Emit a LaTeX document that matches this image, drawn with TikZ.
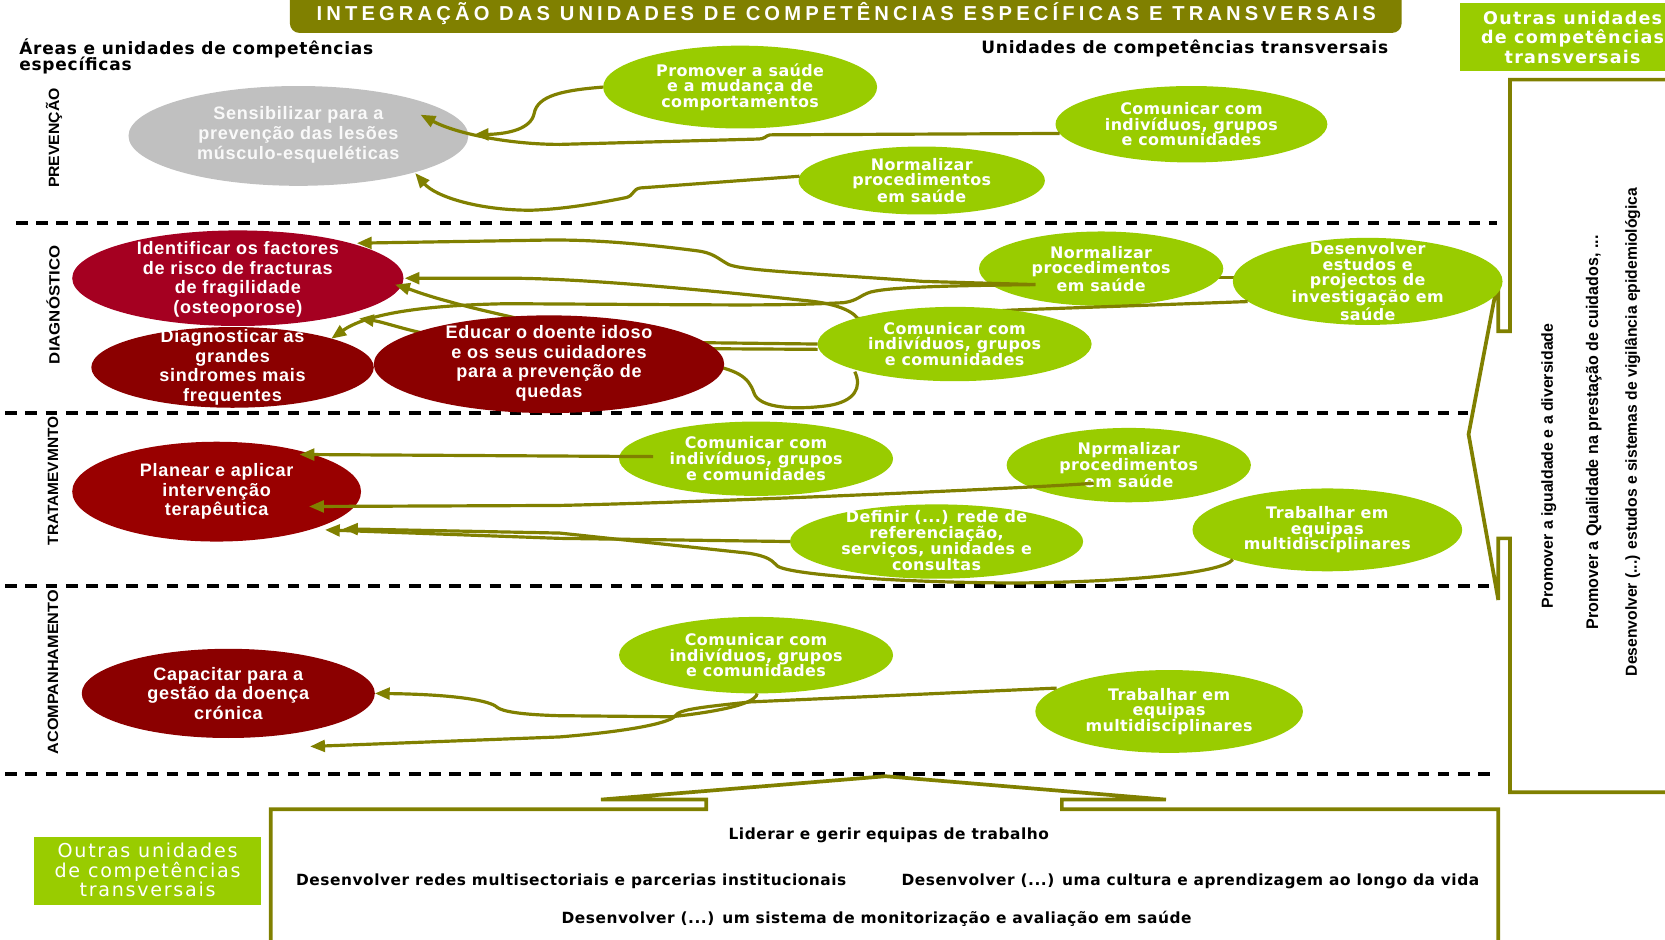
\documentclass[tikz,border=0pt]{standalone}
\usepackage{fontspec}
\setmainfont{Liberation Sans}
\newfontfamily\vfont{DejaVu Sans}[LetterSpace=2.5]
\newfontfamily\hfont{DejaVu Sans}[LetterSpace=4.5]
\newfontfamily\wfont{DejaVu Sans}[LetterSpace=7]
\newfontfamily\afont{Liberation Sans}[LetterSpace=4]
\newfontfamily\ttlfont{Liberation Sans}[LetterSpace=20.5]
\newfontfamily\bfont{DejaVu Sans}[LetterSpace=3.5]
\newfontfamily\cfont{DejaVu Sans}[LetterSpace=9]
\usetikzlibrary{shapes.geometric,arrows.meta,calc}
\definecolor{olv}{HTML}{808000}
\definecolor{lgr}{HTML}{99CC00}
\definecolor{gry}{HTML}{C0C0C0}
\definecolor{redA}{HTML}{A50021}
\definecolor{redB}{HTML}{8B0000}
\definecolor{redC}{HTML}{990000}
\tikzset{
  ell/.style={ellipse, draw=none, inner sep=0pt, outer sep=0pt},
  gtx/.style={text=white, align=center, inner sep=0pt, font=\vfont\bfseries\fontsize{15}{14.8}\selectfont},
  rtx/.style={text=white, align=center, inner sep=0pt, font=\afont\bfseries\fontsize{17}{18.4}\selectfont},
  dsh/.style={black, line width=3.2pt, dash pattern=on 11pt off 8pt},
  conn/.style={olv, line width=3pt, -{Triangle[length=14pt,width=11pt]}},
  plain/.style={olv, line width=3pt},
  brk/.style={olv, line width=3.5pt},
  side/.style={rotate=90, inner sep=0pt, font=\bfseries\fontsize{14}{14}\selectfont},
  rside/.style={rotate=90, anchor=west, inner sep=0pt, font=\bfseries\fontsize{12}{12}\selectfont},
  btx/.style={inner sep=0pt, anchor=base, font=\bfont\bfseries\fontsize{14.5}{14.5}\selectfont},
  htx/.style={anchor=base west, inner sep=0pt, font=\hfont\bfseries\fontsize{16}{16}\selectfont}
}
\begin{document}
\begin{tikzpicture}[x=1pt,y=-1pt]
\useasboundingbox (0,0) rectangle (1568,885);
\clip (0,0) rectangle (1568,885);
% dashed separators
\draw[dsh] (15,210) -- (1410,210);
\draw[dsh] (5,389) -- (1382,389);
\draw[dsh] (5,552) -- (1402,552);
\draw[dsh] (5,729) -- (1408,729);
% title
\fill[olv, rounded corners=9pt] (273,-14) rectangle (1320,31);
\node[text=white, inner sep=0pt, font=\ttlfont\bfseries\fontsize{19}{20}\selectfont] (title) at (797,13) {INTEGRAÇÃO DAS UNIDADES DE COMPETÊNCIAS ESPECÍFICAS E TRANSVERSAIS};
% headers
\node[htx] (hl1) at (18,51) {Áreas e unidades de competências};
\node[htx] (hl2) at (18,66) {específicas};
\node[htx] (hr) at (924,50) {Unidades de competências transversais};
% top right box
\fill[lgr] (1375,3) rectangle (1600,67);
\node[text=white, anchor=base, inner sep=0pt, font=\wfont\bfseries\fontsize{16.5}{16.5}\selectfont] (tr1) at (1481,23.5) {Outras unidades};
\node[text=white, anchor=base, inner sep=0pt, font=\wfont\bfseries\fontsize{16.5}{16.5}\selectfont] (tr2) at (1481,41) {de competências};
\node[text=white, anchor=base, inner sep=0pt, font=\wfont\bfseries\fontsize{16.5}{16.5}\selectfont] (tr3) at (1481,59.5) {transversais};
% side labels
\node[side] (lprev) at (51,130) {\scalebox{1.06}[1]{PREVENÇÃO}};
\node[side] (ldiag) at (50,287) {\scalebox{1.13}[1]{DIAGNÓSTICO}};
\node[side] (ltrat) at (50,453) {\scalebox{1.04}[1]{TRATAMEVMNTO}};
\node[side] (lacom) at (50,633) {\scalebox{1.09}[1]{ACOMPANHAMENTO}};
% right rotated texts
\node[rside] (rs1) at (1458.5,573) {\resizebox{268pt}{10.9pt}{Promover a igualdade e a diversidade}};
\node[rside] (rs2) at (1501,593) {\resizebox{371pt}{11.5pt}{Promover a Qualidade na prestação de cuidados, ...}};
\node[rside] (rs3) at (1537.5,637) {\resizebox{460pt}{11.2pt}{Desenvolver (...) estudos e sistemas de vigilância epidemiológica}};
% brackets
\draw[brk] (1600,75) -- (1422,75) -- (1422,312) -- (1411,312) -- (1411,262) -- (1383,409) -- (1411,565) -- (1411,507) -- (1422,507) -- (1422,746) -- (1600,746);
\draw[brk] (255,900) -- (255,762) -- (665,762) -- (665,753) -- (566,753) -- (834,731) -- (1098,753) -- (1000,753) -- (1000,762) -- (1411,762) -- (1411,900);
% bottom left box
\fill[lgr] (32,788) rectangle (246,852);
\node[text=white, anchor=base, inner sep=0pt, font=\cfont\fontsize{18}{18}\selectfont] (bl1) at (139,808) {Outras unidades};
\node[text=white, anchor=base, inner sep=0pt, font=\cfont\fontsize{18}{18}\selectfont] (bl2) at (139,826.5) {de competências};
\node[text=white, anchor=base, inner sep=0pt, font=\cfont\fontsize{18}{18}\selectfont] (bl3) at (139,844.5) {transversais};
% bottom texts
\node[btx] (b1) at (837,791) {Liderar e gerir equipas de trabalho};
\node[btx] (b2) at (538,834) {Desenvolver redes multisectoriais e parcerias institucionais};
\node[btx] (b3) at (1121,834) {Desenvolver (...) uma cultura e aprendizagem ao longo da vida};
\node[btx] (b4) at (825.5,869.5) {Desenvolver (...) um sistema de monitorização e avaliação em saúde};
% ===== ellipses: prevention
\node[ell, fill=gry, minimum width=320pt, minimum height=94pt] (sens) at (281,128) {};
\node[rtx, text=white!95!gray] (sens-t) at (281,127) {Sensibilizar para a\\prevenção das lesões\\músculo-esqueléticas};
\node[ell, fill=lgr, minimum width=258pt, minimum height=78pt] (promo) at (697,82) {};
\node[gtx] (promo-t) at (promo) {Promover a saúde\\e a mudança de\\comportamentos};
\node[ell, fill=lgr, minimum width=256pt, minimum height=72pt] (comP) at (1122,117) {};
\node[gtx] (comP-t) at (comP) {Comunicar com\\indivíduos, grupos\\e comunidades};
\node[ell, fill=lgr, minimum width=232pt, minimum height=64pt] (normP) at (868,170) {};
\node[gtx] (normP-t) at (normP) {Normalizar\\procedimentos\\em saúde};
% diagnostic
\node[ell, fill=redA, minimum width=312pt, minimum height=90pt] (ident) at (224,262) {};
\node[rtx] (ident-t) at (224,263) {Identificar os factores\\de risco de fracturas\\de fragilidade\\(osteoporose)};
\node[ell, fill=redB, minimum width=266pt, minimum height=76pt] (diagn) at (219,346) {};
\node[rtx] (diagn-t) at (219,346) {Diagnosticar as\\grandes\\sindromes mais\\frequentes};
\draw[plain] (1146,261) -- (1165,261);
\node[ell, fill=lgr, minimum width=230pt, minimum height=70pt] (normD) at (1037,253) {};
\node[gtx] (normD-t) at (normD) {Normalizar\\procedimentos\\em saúde};
\node[ell, fill=lgr, minimum width=254pt, minimum height=82pt] (desenv) at (1288,265) {};
\node[gtx] (desenv-t) at (desenv) {Desenvolver\\estudos e\\projectos de\\investigação em\\saúde};
% Desenvolver -> Identificar, passing under Comunicar
\draw[conn] ($(desenv)+(-113,19)$) -- (953,292) -- (808,300) .. controls (800,290) and (780,285) .. (758,283) .. controls (720,279) and (680,275) .. (646,272) .. controls (580,266) and (520,262) .. (478,262) -- ($(ident)+(157,0)$);
\node[ell, fill=lgr, minimum width=258pt, minimum height=70pt] (comD) at (899,324) {};
\node[gtx] (comD-t) at (comD) {Comunicar com\\indivíduos, grupos\\e comunidades};
% treatment
\node[ell, fill=redC, minimum width=272pt, minimum height=94pt] (plan) at (204,463) {};
\node[rtx] (plan-t) at (204,463) {Planear e aplicar\\intervenção\\terapêutica};
\node[ell, fill=lgr, minimum width=258pt, minimum height=70pt] (comT) at (712,432) {};
\node[gtx] (comT-t) at (comT) {Comunicar com\\indivíduos, grupos\\e comunidades};
\node[ell, fill=lgr, minimum width=230pt, minimum height=70pt] (nprT) at (1063,438) {};
\node[gtx] (nprT-t) at (nprT) {Nprmalizar\\procedimentos\\em saúde};
\node[ell, fill=lgr, minimum width=276pt, minimum height=70pt] (defT) at (882,510) {};
\node[gtx] (defT-t) at (882,509) {Definir (...) rede de\\referenciação,\\serviços, unidades e\\consultas};
\node[ell, fill=lgr, minimum width=254pt, minimum height=78pt] (trabT) at (1250,499) {};
\node[gtx] (trabT-t) at (trabT) {Trabalhar em\\equipas\\multidisciplinares};
% follow-up
\node[ell, fill=redB, minimum width=276pt, minimum height=84pt] (capa) at (215,653) {};
\node[rtx] (capa-t) at (215,653) {Capacitar para a\\gestão da doença\\crónica};
\node[ell, fill=lgr, minimum width=258pt, minimum height=72pt] (comF) at (712,617) {};
\node[gtx] (comF-t) at (comF) {Comunicar com\\indivíduos, grupos\\e comunidades};
\node[ell, fill=lgr, minimum width=252pt, minimum height=78pt] (trabF) at (1101,670) {};
\node[gtx] (trabF-t) at (trabF) {Trabalhar em\\equipas\\multidisciplinares};
% ===== connectors: prevention
\draw[conn] (promo.west) .. controls (530,85) and (506,90) .. (503,107) .. controls (500,121) and (480,126) .. ($(sens.east)+(5,-1)$);
\draw[conn] (comP.184) -- (725,127) .. controls (720,128) and (722,131) .. (712,131) -- (527,136) .. controls (480,136) and (430,126) .. ($(sens)+(115,-20)$);
\draw[conn] (normP.178) -- (603,177) .. controls (596,178) and (597,184) .. (590,186) .. controls (560,192) and (530,197) .. (500,198) .. controls (450,198) and (410,185) .. ($(sens)+(110,35)$);
% diagnostic
\draw[conn] ($(normD)+(-62,15)$) -- (869,265) .. controls (760,257) and (700,255) .. (686,249) .. controls (675,243) and (672,238) .. (655,236) .. controls (600,229) and (560,226) .. (520,226) -- ($(ident)+(112,-33)$);
\draw[conn] ($(normD)+(-62,15)$) .. controls (900,269) and (840,270) .. (820,275) .. controls (810,278) and (808,283) .. (795,285) .. controls (740,288) and (680,287) .. (646,287) -- (478,286) .. controls (420,287) and (350,292) .. ($(diagn)+(93,-27)$);
\draw[conn] (comD.west) -- (600,322) -- (400,314) .. controls (380,310) and (360,303) .. ($(ident)+(114,38)$);
\draw[conn] ($(comD.west)+(0,5)$) -- (600,328) .. controls (540,310) and (460,295) .. (423,284) .. controls (400,278) and (385,272) .. ($(ident)+(148,6)$);
\draw[plain] ($(comD)+(-94,26)$) .. controls (812,365) and (805,378) .. (780,382) .. controls (750,386) and (715,385) .. (710,370) .. controls (705,355) and (695,348) .. (660,342);
% treatment
\draw[conn] ($(comT)+(-97,-2)$) -- ($(plan)+(78,-35)$);
\draw[conn] ($(nprT)+(-33,17)$) .. controls (1000,458) and (700,472) .. (527,476) -- ($(plan)+(87,14)$);
\draw[conn] (defT.west) -- (527,507) -- ($(plan)+(102,36)$);
\draw[conn] ($(trabT)+(-89,28)$) .. controls (1150,540) and (1060,548) .. (960,549) .. controls (860,549) and (745,542) .. (732,533) .. controls (727,528) and (724,524) .. (705,521) -- (527,502) -- ($(plan)+(119,35)$);
% follow-up
\draw[conn] ($(comF)+(1,36)$) .. controls (712,665) and (660,672) .. (632,675) -- (527,674) .. controls (490,673) and (473,670) .. (468,666) .. controls (462,660) and (430,654) .. (capa.east);
\draw[conn] ($(trabF)+(-106,-22)$) -- (707,661) .. controls (660,666) and (640,668) .. (636,674) .. controls (632,680) and (600,688) .. (527,694) -- ($(capa)+(77,50)$);
% Educar on top
\node[ell, fill=redB, minimum width=330pt, minimum height=92pt] (educ) at (517,343) {};
\node[rtx] (educ-t) at (517,342) {Educar o doente idoso\\e os seus cuidadores\\para a prevenção de\\quedas};
\end{tikzpicture}
\end{document}
